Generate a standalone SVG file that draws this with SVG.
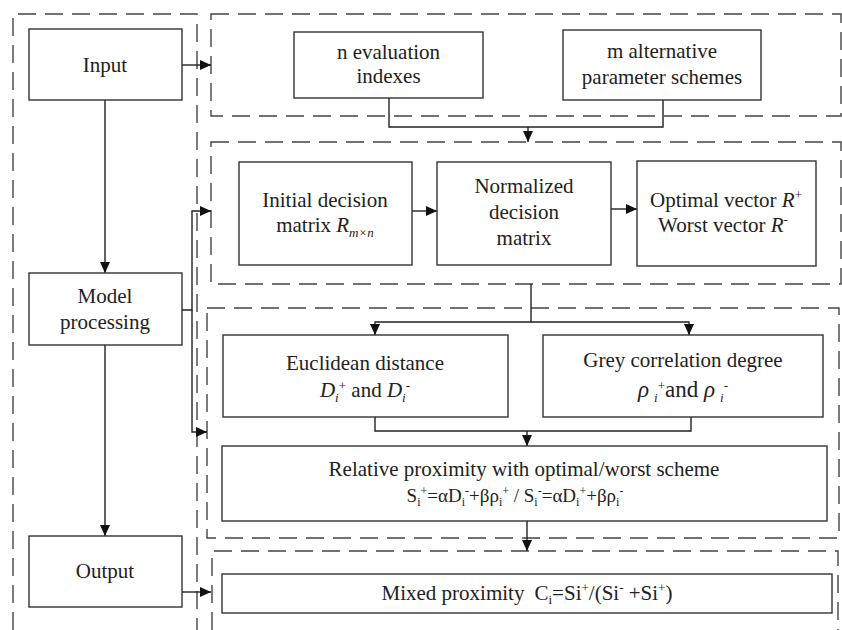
<svg xmlns="http://www.w3.org/2000/svg" width="842" height="630" viewBox="0 0 842 630">
<style>
.dash{fill:none;stroke:#444;stroke-width:1.4;stroke-dasharray:18 9}
.box{fill:#fff;stroke:#333;stroke-width:1.4}
.t{font-family:"Times New Roman","Liberation Serif",Tinos,serif;font-size:21px;fill:#222;text-anchor:middle}
.it{font-style:italic}
.s{font-size:13px}
.f{font-size:19px}
.fs{font-size:12px}
.cn{fill:none;stroke:#222;stroke-width:1.4}
</style>
<defs>
<marker id="ah" markerUnits="userSpaceOnUse" markerWidth="11" markerHeight="10" refX="11" refY="5" orient="auto">
<path d="M0,0 L11,5 L0,10 z" fill="#111"/>
</marker>
</defs>
<rect width="842" height="630" fill="#fff"/>
<g id="panels">
<path class="dash" d="M13,630 V14 H197 V630"/>
<rect class="dash" x="211" y="14" width="630" height="102"/>
<rect class="dash" x="211" y="142" width="630" height="142"/>
<rect class="dash" x="207" y="308" width="632" height="230"/>
<path class="dash" d="M212,630 V551 H838 V630"/>
</g>
<g id="connectors">
<path class="cn" d="M105,100 V273" marker-end="url(#ah)"/>
<path class="cn" d="M105,345 V536" marker-end="url(#ah)"/>
<path class="cn" d="M182,65 H211" marker-end="url(#ah)"/>
<path class="cn" d="M182,310 H192 V211 H211" marker-end="url(#ah)"/>
<path class="cn" d="M192,310 V432 H207" marker-end="url(#ah)"/>
<path class="cn" d="M182,592 H211" marker-end="url(#ah)"/>
<path class="cn" d="M389,98 V127 H663 V100"/>
<path class="cn" d="M528,127 V142" marker-end="url(#ah)"/>
<path class="cn" d="M412,211 H437" marker-end="url(#ah)"/>
<path class="cn" d="M611,209 H637" marker-end="url(#ah)"/>
<path class="cn" d="M531,284 V322 H375 V335" marker-end="url(#ah)"/>
<path class="cn" d="M531,322 H689 V335" marker-end="url(#ah)"/>
<path class="cn" d="M375,417 V431 H691 V417"/>
<path class="cn" d="M527,431 V446" marker-end="url(#ah)"/>
<path class="cn" d="M527,521 V551" marker-end="url(#ah)"/>
</g>
<g id="input">
<rect class="box" x="29" y="29" width="153" height="71"/>
<text class="t" x="105" y="72">Input</text>
</g>
<g id="model">
<rect class="box" x="29" y="273" width="153" height="72"/>
<text class="t" x="105" y="303">Model</text>
<text class="t" x="105" y="329">processing</text>
</g>
<g id="output">
<rect class="box" x="29" y="536" width="153" height="71"/>
<text class="t" x="105" y="578">Output</text>
</g>
<g id="n-eval">
<rect class="box" x="294" y="32" width="189" height="66"/>
<text class="t" x="388.5" y="59">n evaluation</text>
<text class="t" x="388.5" y="83">indexes</text>
</g>
<g id="m-alt">
<rect class="box" x="563" y="30" width="198" height="70"/>
<text class="t" x="662" y="58">m alternative</text>
<text class="t" x="662" y="84">parameter schemes</text>
</g>
<g id="initial">
<rect class="box" x="239" y="162" width="173" height="103"/>
<text class="t" x="325" y="207">Initial decision</text>
<text class="t" x="325" y="232">matrix <tspan class="it">R</tspan><tspan class="it s" dy="5">m×n</tspan></text>
</g>
<g id="normalized">
<rect class="box" x="437" y="162" width="174" height="103"/>
<text class="t" x="524" y="193">Normalized</text>
<text class="t" x="524" y="219">decision</text>
<text class="t" x="524" y="245">matrix</text>
</g>
<g id="optimal">
<rect class="box" x="637" y="161" width="179" height="105"/>
<text class="t" x="726" y="207">Optimal vector <tspan class="it">R</tspan><tspan class="s" dy="-8">+</tspan></text>
<text class="t" x="723" y="232">Worst vector <tspan class="it">R</tspan><tspan class="s" dy="-8">-</tspan></text>
</g>
<g id="euclidean">
<rect class="box" x="223" y="335" width="285" height="82"/>
<text class="t" x="365" y="370">Euclidean distance</text>
<text class="t" x="365" y="397"><tspan class="it">D</tspan><tspan class="it s" dy="5">i</tspan><tspan class="s" dy="-12">+</tspan><tspan dy="7"> and </tspan><tspan class="it">D</tspan><tspan class="it s" dy="5">i</tspan><tspan class="s" dy="-12">-</tspan></text>
</g>
<g id="grey">
<rect class="box" x="543" y="335" width="280" height="82"/>
<text class="t" x="683" y="367">Grey correlation degree</text>
<text class="t" x="683" y="397" style="font-size:23px"><tspan class="it">ρ</tspan><tspan class="it s" dx="5" dy="5">i</tspan><tspan class="s" dy="-12">+</tspan><tspan dy="7">and </tspan><tspan class="it">ρ</tspan><tspan class="it s" dx="5" dy="5">i</tspan><tspan class="s" dy="-12">-</tspan></text>
</g>
<g id="relative">
<rect class="box" x="222" y="446" width="605" height="75"/>
<text class="t" x="524" y="476">Relative proximity with optimal/worst scheme</text>
<text class="t f" x="515" y="502">S<tspan class="fs" dy="4">i</tspan><tspan class="fs" dy="-11">+</tspan><tspan dy="7">=αD</tspan><tspan class="fs" dy="4">i</tspan><tspan class="fs" dy="-11">-</tspan><tspan dy="7">+βρ</tspan><tspan class="fs" dy="4">i</tspan><tspan class="fs" dy="-11">+</tspan><tspan dy="7"> / S</tspan><tspan class="fs" dy="4">i</tspan><tspan class="fs" dy="-11">-</tspan><tspan dy="7">=αD</tspan><tspan class="fs" dy="4">i</tspan><tspan class="fs" dy="-11">+</tspan><tspan dy="7">+βρ</tspan><tspan class="fs" dy="4">i</tspan><tspan class="fs" dy="-11">-</tspan></text>
</g>
<g id="mixed">
<rect class="box" x="222" y="574" width="610" height="39"/>
<text class="t" x="527" y="600">Mixed proximity<tspan dx="10">C</tspan><tspan class="s" dy="4">i</tspan><tspan dy="-4">=Si</tspan><tspan class="s" dy="-8">+</tspan><tspan dy="8">/(Si</tspan><tspan class="s" dy="-8">-</tspan><tspan dy="8"> +Si</tspan><tspan class="s" dy="-8">+</tspan><tspan dy="8">)</tspan></text>
</g>
</svg>
